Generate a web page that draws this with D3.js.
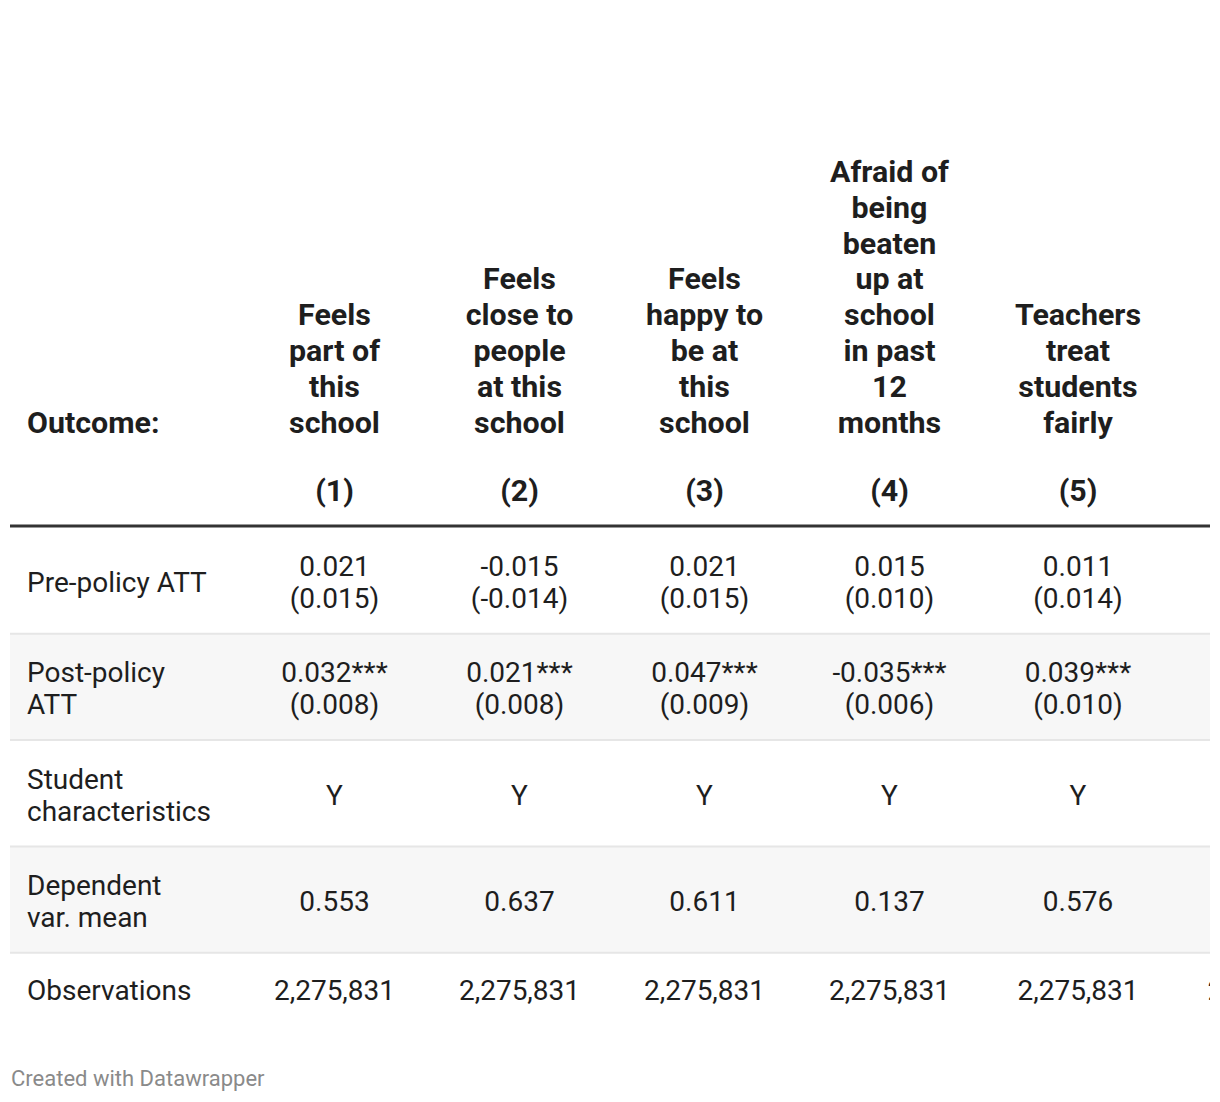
<!DOCTYPE html>
<html>
<head>
<meta charset="utf-8">
<script src="https://cdn.jsdelivr.net/npm/d3@7"></script>
<style>
  html, body { margin: 0; padding: 0; background: #fff; }
  svg { display: block; font-family: Roboto, "Noto Sans", sans-serif; }
</style>
</head>
<body>
<svg id="chart" width="1220" height="1102"></svg>
<script>
// ---------- DATA ----------
const stubHeader = "Outcome:";
const columnKeys = ["c1", "c2", "c3", "c4", "c5", "c6"];
const columnNumbers = ["(1)", "(2)", "(3)", "(4)", "(5)", ""];
const columnTitles = [
  ["Feels", "part of", "this", "school"],
  ["Feels", "close to", "people", "at this", "school"],
  ["Feels", "happy to", "be at", "this", "school"],
  ["Afraid of", "being", "beaten", "up at", "school", "in past", "12", "months"],
  ["Teachers", "treat", "students", "fairly"],
  []
];
const rowLabels = [
  ["Pre-policy ATT"],
  ["Post-policy", "ATT"],
  ["Student", "characteristics"],
  ["Dependent", "var. mean"],
  ["Observations"]
];
const prePolicy = [["0.021", "(0.015)"], ["-0.015", "(-0.014)"], ["0.021", "(0.015)"], ["0.015", "(0.010)"], ["0.011", "(0.014)"], []];
const postPolicy = [["0.032***", "(0.008)"], ["0.021***", "(0.008)"], ["0.047***", "(0.009)"], ["-0.035***", "(0.006)"], ["0.039***", "(0.010)"], []];
const studentChars = [["Y"], ["Y"], ["Y"], ["Y"], ["Y"], []];
const depMean = [["0.553"], ["0.637"], ["0.611"], ["0.137"], ["0.576"], []];
const observations = [["2,275,831"], ["2,275,831"], ["2,275,831"], ["2,275,831"], ["2,275,831"], ["2,275,831"]];
const rowsData = [prePolicy, postPolicy, studentChars, depMean, observations];
const footerText = "Created with Datawrapper";

// ---------- LAYOUT ----------
const tableLeft = 10, tableRight = 1210;
const stubWidth = 232;
const colWidths = [185, 185, 185, 185, 192, 188];
const headerBottom = 527;
const rowStep = 106.3;
const fontSize = 28;
const headFontSize = 30.4;
const bodyLH = 32;
const headLH = 35.9;
const textColor = "#1e1e1e";

const svg = d3.select("#chart");

let acc = tableLeft + stubWidth;
const centers = colWidths.map(w => { const c = acc + w / 2; acc += w; return c; });
const x = d3.scaleOrdinal().domain(columnKeys).range(centers);
const y = d3.scaleBand().domain(d3.range(rowLabels.length))
  .range([headerBottom, headerBottom + rowStep * rowLabels.length]).paddingInner(0).paddingOuter(0);

svg.append("defs").append("clipPath").attr("id", "tclip")
  .append("rect").attr("x", 0).attr("y", 0).attr("width", tableRight).attr("height", 1102);

const g = svg.append("g").attr("clip-path", "url(#tclip)");

g.selectAll("rect.rowbg").data(rowLabels).join("rect")
  .attr("class", "rowbg")
  .attr("x", tableLeft).attr("width", tableRight - tableLeft)
  .attr("y", (d, i) => y(i)).attr("height", y.bandwidth())
  .attr("fill", (d, i) => i % 2 === 1 ? "#f7f7f7" : "#ffffff");

g.selectAll("line.sep").data(d3.range(1, rowLabels.length)).join("line")
  .attr("class", "sep")
  .attr("x1", tableLeft).attr("x2", tableRight)
  .attr("y1", d => y(d) + 0.5).attr("y2", d => y(d) + 0.5)
  .attr("stroke", "#e6e6e6").attr("stroke-width", 2);

g.append("line")
  .attr("x1", tableLeft).attr("x2", tableRight)
  .attr("y1", headerBottom - 1).attr("y2", headerBottom - 1)
  .attr("stroke", "#333333").attr("stroke-width", 3);

function multiText(sel, lines, cx, cy, lh, anchor, weight, size) {
  const n = lines.length;
  const t = sel.append("text")
    .attr("text-anchor", anchor)
    .attr("font-size", size)
    .attr("font-weight", weight)
    .attr("fill", textColor);
  lines.forEach((ln, i) => {
    t.append("tspan").attr("x", cx)
      .attr("y", cy + (i - (n - 1) / 2) * lh)
      .attr("dominant-baseline", "central")
      .text(ln);
  });
  return t;
}

// header
const lastLineY = 422.5;
const numY = 490.5;
multiText(g, [stubHeader], tableLeft + 17, lastLineY, headLH, "start", 700, headFontSize);
columnKeys.forEach((k, i) => {
  const lines = columnTitles[i];
  const n = lines.length;
  if (n) {
    const t = g.append("text").attr("text-anchor", "middle")
      .attr("font-size", headFontSize).attr("font-weight", 700).attr("fill", textColor);
    lines.forEach((ln, j) => {
      t.append("tspan").attr("x", x(k)).attr("y", lastLineY - (n - 1 - j) * headLH)
        .attr("dominant-baseline", "central").text(ln);
    });
  }
  if (columnNumbers[i]) multiText(g, [columnNumbers[i]], x(k), numY, headLH, "middle", 700, headFontSize);
});

// body
rowLabels.forEach((lab, r) => {
  const cy = y(r) + y.bandwidth() / 2 + (r === rowLabels.length - 1 ? -15 : 2.5);
  multiText(g, lab, tableLeft + 17, cy, bodyLH, "start", 400, fontSize);
  columnKeys.forEach((k, c) => {
    const cell = rowsData[r][c];
    if (cell && cell.length) multiText(g, cell, x(k), cy, bodyLH, "middle", 400, fontSize);
  });
});

// footer
svg.append("text")
  .attr("x", 11).attr("y", 1078)
  .attr("dominant-baseline", "central")
  .attr("font-size", 22)
  .attr("fill", "#8a8a8a")
  .text(footerText);
</script>
</body>
</html>
